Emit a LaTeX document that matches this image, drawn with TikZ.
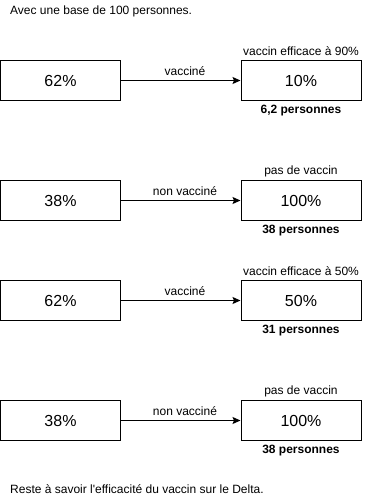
\documentclass[tikz,border=0pt]{standalone}
\usepackage{fontspec}
\setmainfont{Liberation Sans}[Ligatures=TeXOff]
\usetikzlibrary{arrows.meta}

\begin{document}
\begin{tikzpicture}[x=1pt,y=-1pt,
  box/.style={draw,line width=1pt,minimum width=120pt,minimum height=40pt,inner sep=0pt,font=\fontsize{16}{19}\selectfont},
  lbl/.style={inner sep=0pt,font=\fontsize{12}{14}\selectfont},
  blbl/.style={lbl,font=\fontsize{12}{14}\selectfont\bfseries},
  flow/.style={-{Stealth[length=8pt,width=7pt,inset=1.5pt]},line width=1pt}]
\useasboundingbox (0,0) rectangle (366,501);

\node[lbl,anchor=west] (intro) at (10,11) {Avec une base de 100 personnes.};

% vaccine 90%
\node[box] (a1) at (60.5,80.5) {62\%};
\node[box] (b1) at (301,80.5) {10\%};
\draw[flow] (a1) -- (b1);
\node[lbl] (v1) at (185,71.5) {vacciné};
\node[lbl] (t1) at (301,51.5) {vaccin efficace à 90\%};
\node[blbl] (p1) at (301,110.5) {6,2 personnes};

% no vaccine
\node[box] (a2) at (60.5,200.5) {38\%};
\node[box] (b2) at (301,200.5) {100\%};
\draw[flow] (a2) -- (b2);
\node[lbl] (v2) at (185,191.5) {non vacciné};
\node[lbl] (t2) at (301,171.5) {pas de vaccin};
\node[blbl] (p2) at (301,230.5) {38 personnes};

% vaccine 50%
\node[box] (a3) at (60.5,300.5) {62\%};
\node[box] (b3) at (301,300.5) {50\%};
\draw[flow] (a3) -- (b3);
\node[lbl] (v3) at (185,291.5) {vacciné};
\node[lbl] (t3) at (301,271.5) {vaccin efficace à 50\%};
\node[blbl] (p3) at (301,330.5) {31 personnes};

% no vaccine
\node[box] (a4) at (60.5,420.5) {38\%};
\node[box] (b4) at (301,420.5) {100\%};
\draw[flow] (a4) -- (b4);
\node[lbl] (v4) at (185,411.5) {non vacciné};
\node[lbl] (t4) at (301,391.5) {pas de vaccin};
\node[blbl] (p4) at (301,450.5) {38 personnes};

\node[lbl,anchor=west] (outro) at (10,489) {Reste à savoir l'efficacité du vaccin sur le Delta.};
\end{tikzpicture}
\end{document}
